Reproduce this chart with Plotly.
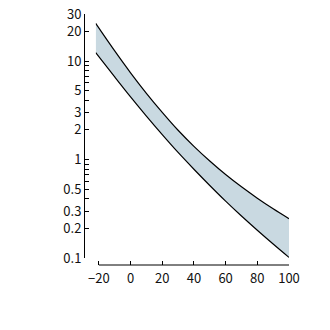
import plotly.graph_objects as go
import math

# data
temps = [-22, -10, 0, 10, 20, 30, 40, 50, 60, 70, 80, 90, 100]
upper = [24.1, 12.66, 7.59, 4.70, 3.01, 1.98, 1.36, 0.966, 0.704, 0.528, 0.405, 0.316, 0.251]
lower = [12.14, 6.88, 4.32, 2.76, 1.79, 1.18, 0.797, 0.545, 0.378, 0.267, 0.1915, 0.1387, 0.1014]

x_ticks = [-20, 0, 20, 40, 60, 80, 100]
y_major = [0.1, 0.2, 0.3, 0.5, 1, 2, 3, 5, 10, 20, 30]
y_major_text = ["0.1", "0.2", "0.3", "0.5", "1", "2", "3", "5", "10", "20", "30"]
y_minor = [0.4, 0.6, 0.7, 0.8, 0.9, 4, 6, 7, 8, 9]

W = H = 330
font = dict(family="Noto Sans CJK JP, Noto Sans, sans-serif", size=13, color="#111")

fig = go.Figure()
fig.add_trace(go.Scatter(x=temps, y=lower, mode="lines", line=dict(color="black", width=1.2, shape="spline"),
                         hoverinfo="skip", showlegend=False))
fig.add_trace(go.Scatter(x=temps, y=upper, mode="lines", line=dict(color="black", width=1.2, shape="spline"),
                         fill="tonexty", fillcolor="#c9d9e1", hoverinfo="skip", showlegend=False))

tickvals = y_major + y_minor
ticktext = y_major_text + [""] * len(y_minor)

xaxis_pos = 1 - 265 / H

fig.update_layout(
    width=W, height=H, margin=dict(l=0, r=0, t=0, b=0, autoexpand=False),
    paper_bgcolor="white", plot_bgcolor="white",
    font=font,
    xaxis=dict(domain=[95.7 / W, 289 / W], range=[min(temps), max(x_ticks)], anchor="free",
               position=xaxis_pos, showline=False, ticks="inside", ticklen=4, tickcolor="black",
               tickvals=x_ticks, showgrid=False, zeroline=False, tickfont=font, automargin=False,
               ticklabelstandoff=4),
    yaxis=dict(domain=[1 - 258 / H, 1 - 14 / H], type="log", range=[-1, math.log10(30)],
               anchor="free", position=84 / W, showline=True, linecolor="black", linewidth=1,
               ticks="inside", ticklen=4, tickcolor="black", tickvals=tickvals, ticktext=ticktext,
               showgrid=False, zeroline=False, tickfont=font, automargin=False),
)
# x axis baseline spanning the tick range
fig.add_shape(type="line", xref="x", yref="paper", x0=x_ticks[0], x1=x_ticks[-1],
              y0=xaxis_pos, y1=xaxis_pos, line=dict(color="black", width=1))
fig.write_html("out.html")
